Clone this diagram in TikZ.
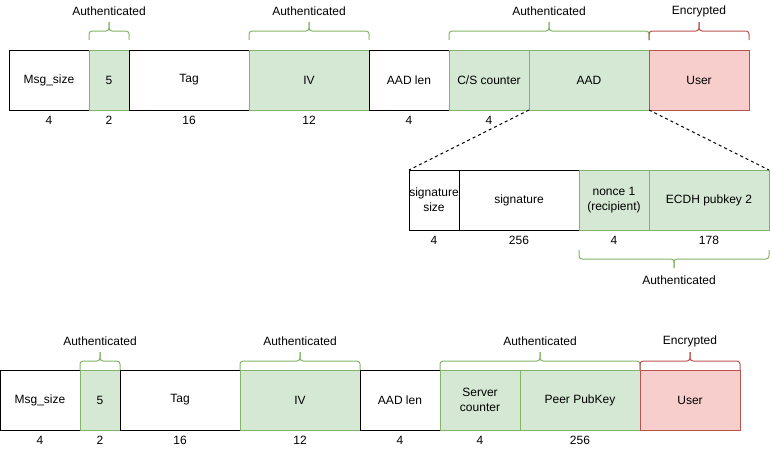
\documentclass[tikz,border=0pt]{standalone}
\usepackage{fontspec}
\setmainfont{Liberation Sans}
\usetikzlibrary{positioning}

\definecolor{authfill}{HTML}{D5E8D4}
\definecolor{authline}{HTML}{82B366}
\definecolor{encfill}{HTML}{F8CECC}
\definecolor{encline}{HTML}{B85450}

\tikzset{
  field/.style={draw=black, line width=1pt, minimum height=60pt, inner sep=0pt,
    outer sep=0pt, align=center, font=\fontsize{12}{15}\selectfont},
  auth/.style={field, fill=authfill, draw=authline},
  enc/.style={field, fill=encfill, draw=encline},
  bytes/.style={inner sep=0pt, font=\fontsize{12}{15}\selectfont},
  tag/.style={inner sep=0pt, font=\fontsize{12}{15}\selectfont},
  bracket/.style={line width=1pt, rounded corners=3pt},
}

% colour, left x, right x, end y, flat y, tip y
\newcommand{\spanbrace}[6]{%
  \draw[bracket,#1] (#2,#4) -- (#2,#5) -- ({(#2+#3)/2},#5) -- ({(#2+#3)/2},#6);
  \draw[bracket,#1] (#3,#4) -- (#3,#5) -- ({(#2+#3)/2},#5) -- ({(#2+#3)/2},#6);
}

\begin{document}
\begin{tikzpicture}[x=1pt, y=-1pt]
\useasboundingbox (0,0) rectangle (771,451);

% first message
\node[field, minimum width=80pt, anchor=north west] (tmsg) at (9,50) {Msg\_size};
\node[auth, minimum width=40pt, right=0pt of tmsg] (tfive) {5};
\node[field, minimum width=120pt, right=0pt of tfive] (ttag) {Tag};
\node[auth, minimum width=120pt, right=0pt of ttag] (tiv) {IV};
\node[field, minimum width=80pt, right=0pt of tiv] (tlen) {AAD len};
\node[auth, minimum width=80pt, right=0pt of tlen] (tctr) {C/S counter};
\node[auth, minimum width=120pt, right=0pt of tctr] (taad) {AAD};
\node[enc, minimum width=100pt, right=0pt of taad] (tuser) {User};

\node[bytes, below=6pt of tmsg] (tmsgb) {4};
\node[bytes, below=6pt of tfive] (tfiveb) {2};
\node[bytes, below=6pt of ttag] (ttagb) {16};
\node[bytes, below=6pt of tiv] (tivb) {12};
\node[bytes, below=6pt of tlen] (tlenb) {4};
\node[bytes, below=6pt of tctr] (tctrb) {4};

\spanbrace{authline}{89}{129}{40}{31}{22}
\spanbrace{authline}{249}{369}{40}{31}{22}
\spanbrace{authline}{449}{649}{40}{31}{22}
\spanbrace{encline}{649}{749}{40}{31}{22}
\node[tag] (ta1) at (109,11) {Authenticated};
\node[tag] (ta2) at (309,11) {Authenticated};
\node[tag] (ta3) at (549,11) {Authenticated};
\node[tag] (te1) at (699,11) {Encrypted};

% AAD contents
\node[field, minimum width=50pt, anchor=north west] (asize) at (409,170) {signature\\size};
\node[field, minimum width=120pt, right=0pt of asize] (asig) {signature};
\node[auth, minimum width=70pt, right=0pt of asig] (anonce) {nonce 1\\(recipient)};
\node[auth, minimum width=120pt, right=0pt of anonce] (akey) {ECDH pubkey 2};

\node[bytes, below=6pt of asize] (asizeb) {4};
\node[bytes, below=6pt of asig] (asigb) {256};
\node[bytes, below=6pt of anonce] (anonceb) {4};
\node[bytes, below=6pt of akey] (akeyb) {178};

\draw[dash pattern=on 3pt off 3pt, line width=1pt] (taad.south west) -- (asize.north west);
\draw[dash pattern=on 3pt off 3pt, line width=1pt] (taad.south east) -- (akey.north east);

\spanbrace{authline}{579}{769}{250}{259}{268}
\node[tag] (aa1) at (679,280) {Authenticated};

% second message
\node[field, minimum width=80pt, anchor=north west] (bmsg) at (0,370) {Msg\_size};
\node[auth, minimum width=40pt, right=0pt of bmsg] (bfive) {5};
\node[field, minimum width=120pt, right=0pt of bfive] (btag) {Tag};
\node[auth, minimum width=120pt, right=0pt of btag] (biv) {IV};
\node[field, minimum width=80pt, right=0pt of biv] (blen) {AAD len};
\node[auth, minimum width=80pt, right=0pt of blen] (bctr) {Server\\counter};
\node[auth, minimum width=120pt, right=0pt of bctr] (bkey) {Peer PubKey};
\node[enc, minimum width=100pt, right=0pt of bkey] (buser) {User};

\node[bytes, below=6pt of bmsg] (bmsgb) {4};
\node[bytes, below=6pt of bfive] (bfiveb) {2};
\node[bytes, below=6pt of btag] (btagb) {16};
\node[bytes, below=6pt of biv] (bivb) {12};
\node[bytes, below=6pt of blen] (blenb) {4};
\node[bytes, below=6pt of bctr] (bctrb) {4};
\node[bytes, below=6pt of bkey] (bkeyb) {256};

\spanbrace{authline}{80}{120}{370}{361}{352}
\spanbrace{authline}{240}{360}{370}{361}{352}
\spanbrace{authline}{440}{640}{370}{361}{352}
\spanbrace{encline}{640}{740}{370}{361}{352}
\node[tag] (ba1) at (100,341) {Authenticated};
\node[tag] (ba2) at (300,341) {Authenticated};
\node[tag] (ba3) at (540,341) {Authenticated};
\node[tag] (be1) at (690,341) {Encrypted};
\end{tikzpicture}
\end{document}
